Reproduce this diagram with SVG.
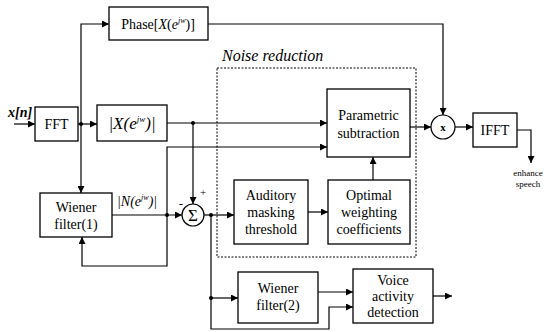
<svg xmlns="http://www.w3.org/2000/svg" width="548" height="332" viewBox="0 0 548 332">
<style>
.box{fill:#fff;stroke:#000;stroke-width:1.3}
.ln{fill:none;stroke:#000;stroke-width:1.2}
text{font-family:"Liberation Serif","Times New Roman","DejaVu Serif",serif;fill:#000}
.t{font-size:14px;text-anchor:middle}
.it{font-style:italic}
.dot{fill:#000}
</style>
<defs>
<marker id="arr" viewBox="0 0 10 10" refX="10" refY="5" markerWidth="10" markerHeight="7" orient="auto" markerUnits="userSpaceOnUse"><path d="M0,0 L10,5 L0,10 z" fill="#000"/></marker>
</defs>
<rect width="548" height="332" fill="#fff"/>
<g id="noise-reduction">
<rect x="217" y="68" width="199" height="189" fill="none" stroke="#000" stroke-width="1" stroke-dasharray="2,1.5"/>
<text x="222" y="61" style="font-size:16px;font-style:italic">Noise reduction</text>
</g>
<g id="connectors">
<path class="ln" d="M14,124 H35" marker-end="url(#arr)"/>
<path class="ln" d="M78,124 H97" marker-end="url(#arr)"/>
<path class="ln" d="M81,124 V24 H109" marker-end="url(#arr)"/>
<path class="ln" d="M81,124 V193" marker-end="url(#arr)"/>
<path class="ln" d="M208,24 H443 V115" marker-end="url(#arr)"/>
<path class="ln" d="M167,123 H327" marker-end="url(#arr)"/>
<path class="ln" d="M193,123 V204" marker-end="url(#arr)"/>
<path class="ln" d="M112,215 H182" marker-end="url(#arr)"/>
<path class="ln" d="M167,215 V147 H327" marker-end="url(#arr)"/>
<path class="ln" d="M167,215 V266 H82 V237" marker-end="url(#arr)"/>
<path class="ln" d="M204,215 H234" marker-end="url(#arr)"/>
<path class="ln" d="M211,215 V329 H329 V307 H353" marker-end="url(#arr)"/>
<path class="ln" d="M211,298 H238" marker-end="url(#arr)"/>
<path class="ln" d="M308,212 H328" marker-end="url(#arr)"/>
<path class="ln" d="M373,180 V157" marker-end="url(#arr)"/>
<path class="ln" d="M410,127 H431" marker-end="url(#arr)"/>
<path class="ln" d="M455,127 H473" marker-end="url(#arr)"/>
<path class="ln" d="M517,130 H531 V163" marker-end="url(#arr)"/>
<path class="ln" d="M318,292 H353" marker-end="url(#arr)"/>
<path class="ln" d="M433,296 H452" marker-end="url(#arr)"/>
<circle class="dot" cx="81" cy="124" r="2"/>
<circle class="dot" cx="193" cy="123" r="2"/>
<circle class="dot" cx="167" cy="215" r="2"/>
<circle class="dot" cx="211" cy="215" r="2"/>
<circle class="dot" cx="211" cy="298" r="2"/>
<text x="203" y="196" class="t" style="font-size:11px">+</text>
<text x="181" y="208" class="t" style="font-size:13px">-</text>
<text x="117" y="206" style="font-size:14px;font-style:italic">|N(e<tspan dy="-6" style="font-size:8px">jw</tspan><tspan dy="6">)|</tspan></text>
</g>
<g id="xn"><text x="8" y="117" style="font-size:14px;font-style:italic;font-weight:bold">x[n]</text></g>
<g id="fft"><rect class="box" x="35" y="107" width="43" height="34"/><text class="t" x="56.5" y="129">FFT</text></g>
<g id="phase"><rect class="box" x="109" y="7" width="99" height="33"/><text class="t" x="158" y="29">Phase[<tspan style="font-style:italic">X</tspan>(<tspan style="font-style:italic">e</tspan><tspan dy="-6" style="font-size:8px;font-style:italic">jw</tspan><tspan dy="6">)]</tspan></text></g>
<g id="magnitude"><rect class="box" x="97" y="105" width="70" height="36"/><text class="t it" x="132" y="129" style="font-size:17px">|X(e<tspan dy="-7" style="font-size:9px">jw</tspan><tspan dy="7">)|</tspan></text></g>
<g id="wiener1"><rect class="box" x="40" y="193" width="72" height="44"/><text class="t" x="76" y="212">Wiener</text><text class="t" x="76" y="229">filter(1)</text></g>
<g id="sigma"><circle cx="193" cy="215" r="11" fill="#fff" stroke="#000" stroke-width="1.2"/><text class="t" x="193" y="221" style="font-size:17px">Σ</text></g>
<g id="parametric"><rect class="box" x="327" y="89" width="83" height="68"/><text class="t" x="368.5" y="120">Parametric</text><text class="t" x="368.5" y="138">subtraction</text></g>
<g id="multiply"><circle cx="443" cy="127" r="12" fill="#fff" stroke="#000" stroke-width="1.2"/><text class="t" x="443" y="131" style="font-size:11px;font-weight:bold">x</text></g>
<g id="ifft"><rect class="box" x="473" y="113" width="44" height="34"/><text class="t" x="495" y="135">IFFT</text></g>
<g id="output"><text class="t" x="528" y="176" style="font-size:9px">enhance</text><text class="t" x="528" y="187" style="font-size:9px">speech</text></g>
<g id="auditory"><rect class="box" x="234" y="180" width="74" height="64"/><text class="t" x="271" y="200">Auditory</text><text class="t" x="271" y="217">masking</text><text class="t" x="271" y="234">threshold</text></g>
<g id="optimal"><rect class="box" x="328" y="180" width="82" height="64"/><text class="t" x="369" y="200">Optimal</text><text class="t" x="369" y="217">weighting</text><text class="t" x="369" y="234">coefficients</text></g>
<g id="wiener2"><rect class="box" x="238" y="272" width="80" height="51"/><text class="t" x="278" y="293">Wiener</text><text class="t" x="278" y="310">filter(2)</text></g>
<g id="vad"><rect class="box" x="353" y="269" width="80" height="54"/><text class="t" x="393" y="285">Voice</text><text class="t" x="393" y="301">activity</text><text class="t" x="393" y="317">detection</text></g>
</svg>
